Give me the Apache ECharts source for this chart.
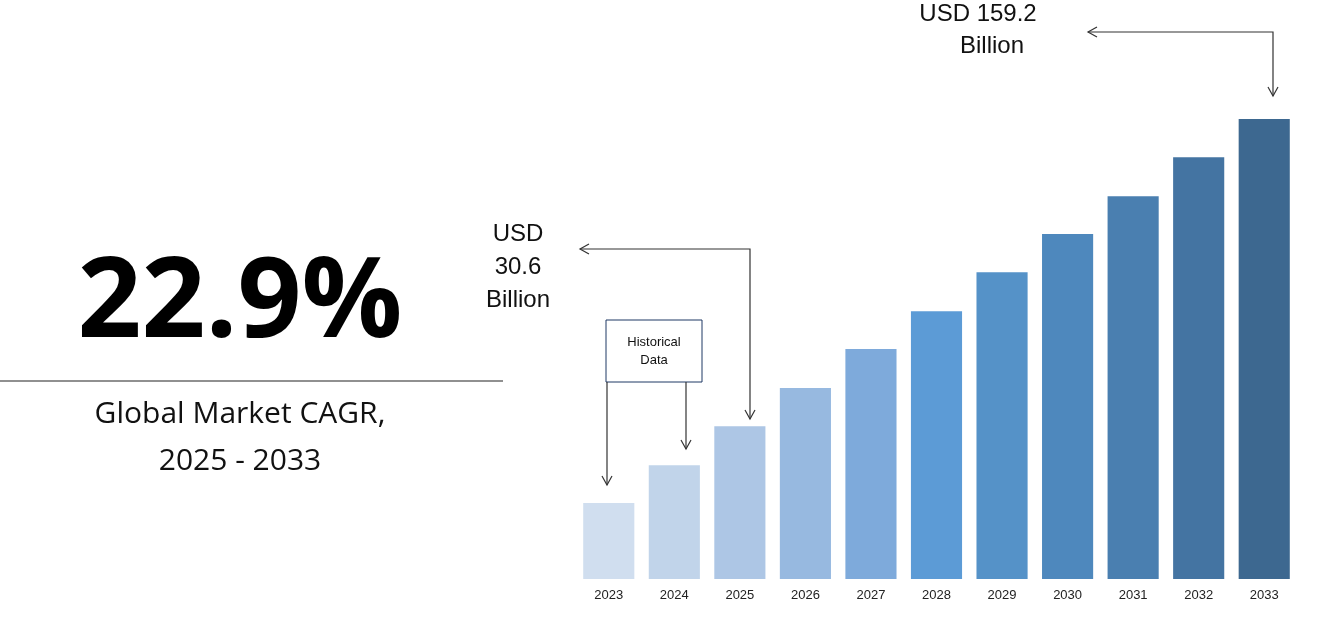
<!DOCTYPE html>
<html><head><meta charset="utf-8">
<script src="https://cdn.jsdelivr.net/npm/echarts@6/dist/echarts.min.js"></script>
<style>html,body{margin:0;padding:0;background:#fff}#c{width:1317px;height:621px}</style>
</head><body><div id="c"></div>
<script>
const years = ['2023','2024','2025','2026','2027','2028','2029','2030','2031','2032','2033'];
const values = [26.3,39.4,52.9,66.1,79.6,92.7,106.2,119.4,132.5,146.0,159.2];
const colors = ['#d0deef','#c1d4ea','#adc6e5','#97b9e0','#7eaadb','#5c9bd6','#5592c8','#4e88bd','#4a7fb0','#4474a2','#3d6890'];
const chart = echarts.init(document.getElementById('c'));
function arrowHead(x,y,dir){
  const s=5,l=9; let pts;
  if(dir==='down') pts=[[x-s,y-l],[x,y],[x+s,y-l]];
  else if(dir==='left') pts=[[x+l,y-s],[x,y],[x+l,y+s]];
  return {type:'polyline',shape:{points:pts},style:{stroke:'#333',lineWidth:1.2,fill:null}};
}
function line(pts){return {type:'polyline',shape:{points:pts},style:{stroke:'#333',lineWidth:1.2,fill:null}};}
const txt=(x,y,t,sz,extra)=>Object.assign({type:'text',x:x,y:y,style:Object.assign({text:t,font:sz+'px Arial',fill:'#111',textAlign:'center',textVerticalAlign:'middle'},extra||{})});
chart.setOption({
  animation:false,
  grid:{left:576,right:20,top:119,bottom:42},
  xAxis:{type:'category',data:years,axisLine:{show:false},axisTick:{show:false},
    axisLabel:{color:'#222',fontSize:13,fontFamily:'Arial',margin:10}},
  yAxis:{type:'value',min:0,max:159.2,show:false,splitLine:{show:false}},
  series:[{type:'bar',barCategoryGap:'22%',
    data:values.map((v,i)=>({value:v,itemStyle:{color:colors[i]}}))}],
  graphic:[
    {type:'text',x:240,y:305,style:{text:'22.9%',font:'bold 112px "Open Sans", Arial',fill:'#000',textAlign:'center',textVerticalAlign:'middle'}},
    {type:'line',shape:{x1:0,y1:381,x2:503,y2:381},style:{stroke:'#222',lineWidth:1.2}},
    txt(240,414,'Global Market CAGR,',30,{font:'30px "Open Sans", Arial'}),
    txt(240,461,'2025 - 2033',30,{font:'30px "Open Sans", Arial'}),
    {type:'rect',shape:{x:606,y:320,width:96,height:62},style:{fill:'#fff',stroke:'#1f3864',lineWidth:1}},
    txt(654,342,'Historical',13),
    txt(654,360,'Data',13),
    line([[607,382],[607,485]]),arrowHead(607,485,'down'),
    line([[686,382],[686,449]]),arrowHead(686,449,'down'),
    line([[750,419],[750,249],[580,249]]),arrowHead(750,419,'down'),arrowHead(580,249,'left'),
    txt(518,234,'USD',24),txt(518,267,'30.6',24),txt(518,300,'Billion',24),
    txt(978,14,'USD 159.2',24),txt(992,46,'Billion',24),
    line([[1088,32],[1273,32],[1273,96]]),arrowHead(1088,32,'left'),arrowHead(1273,96,'down'),
    {type:'text',x:675,y:526,rotation:Math.PI/2,style:{text:'Base Year',font:'13px Arial',fill:'#222',textAlign:'center',textVerticalAlign:'middle'}},
    {type:'text',x:1269,y:475,rotation:Math.PI/2,style:{text:'Forecast Year',font:'13px Arial',fill:'#fff',textAlign:'center',textVerticalAlign:'middle'}}
  ]
});
</script></body></html>
